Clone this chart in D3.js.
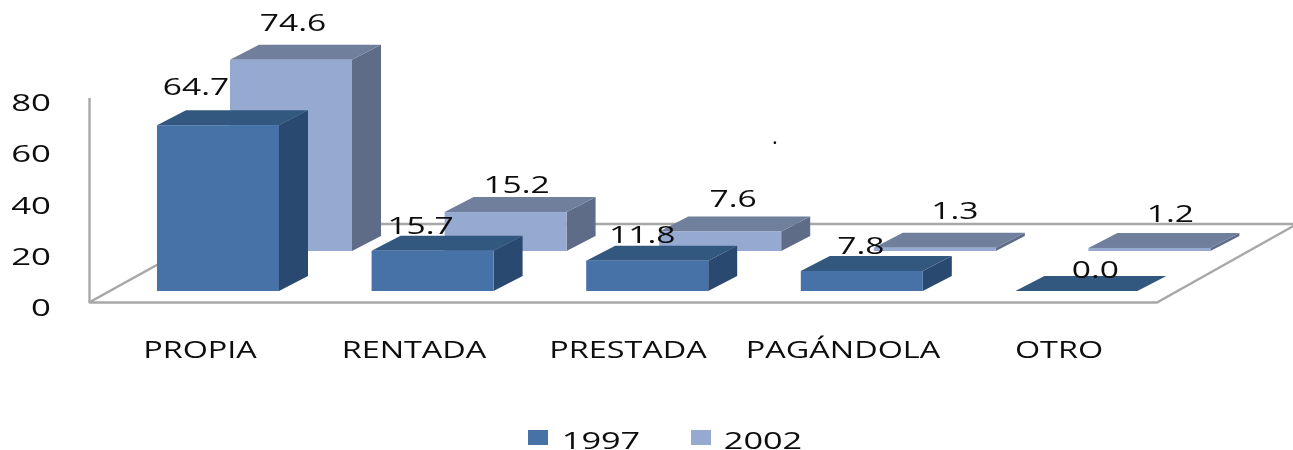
<!DOCTYPE html>
<html><head><meta charset="utf-8">
<script src="https://cdn.jsdelivr.net/npm/d3@7/dist/d3.min.js"></script>
<style>html,body{margin:0;padding:0;background:#fff;overflow:hidden}svg{display:block}
text{font-family:"Open Sans",sans-serif;fill:#111}</style></head><body>
<script>
const categories = ["PROPIA","RENTADA","PRESTADA","PAGÁNDOLA","OTRO"];
const seriesNames = ["1997","2002"];
const values1997 = [64.7,15.7,11.8,7.8,0.0];
const values2002 = [74.6,15.2,7.6,1.3,1.2];
const yTicks = [0,20,40,60,80];

// label nudges relative to the centre/top of each bar (style only)
const nudge1997 = [[-22,-30],[-12,-17],[-5,-18],[-1,-17],[19,-13]];
const nudge2002 = [[2,-29],[11,-19],[13,-25],[20,-29],[21,-26]];

const W=1293,H=450;
const svg=d3.select("body").append("svg").attr("width",W).attr("height",H);
const defs=svg.append("defs");
defs.append("filter").attr("id","soft").append("feGaussianBlur").attr("stdDeviation",0.55);
const g=svg.append("g").attr("filter","url(#soft)");

const floorY=302.5, wallX=89;
const y=d3.scaleLinear().domain([0,80]).range([floorY,97.5]);
const unit=y(0)-y(1);
const x=d3.scaleBand().domain(categories).range([157,1230]).paddingInner(0).paddingOuter(0);
const barW=122, depthX=29, depthY=15;
const series=[
 {name:seriesNames[1],vals:values2002,dx:73,base:251,nudge:nudge2002,face:"#95a9d1",top:"#6f7f9c",side:"#5e6c88"},
 {name:seriesNames[0],vals:values1997,dx:0,base:291,nudge:nudge1997,face:"#4672a8",top:"#33587f",side:"#2c4a70"}
];

// floor outline
const line=d3.line();
g.append("path").attr("d",line([[wallX,floorY],[1157,floorY],[1297,224],[231,224],[wallX,floorY]]))
 .attr("fill","#fff").attr("stroke","#a8a8a8").attr("stroke-width",2.4);

// value axis: its domain line is the wall edge
const axis=d3.axisLeft(y).tickValues(yTicks).tickSize(0).tickFormat(d3.format("d"));
const ax=g.append("g").attr("transform",`translate(${wallX},0)`).call(axis);
ax.select(".domain").attr("stroke","#a8a8a8").attr("stroke-width",2.4);
ax.selectAll("text").attr("x",0).attr("dy",null)
  .style("font-size","24px").style("font-family",'"Open Sans",sans-serif').attr("fill","#111")
  .attr("text-anchor","end").attr("transform",`translate(-38,${7+6})scale(1.45,1)`);

function stretched(sel,sx){
  sel.attr("text-anchor","middle").attr("transform",function(){
    return `translate(${+this.dataset.x},${+this.dataset.y})scale(${sx},1)`;});
}

// bars
series.forEach(s=>{
  const bars=g.append("g").selectAll("g").data(s.vals.map((v,i)=>({v,i,c:categories[i]}))).join("g");
  const X=d=>x(d.c)+s.dx, T=d=>s.base-d.v*unit;
  bars.append("path").attr("fill",s.side).attr("d",d=>line([[X(d)+barW,T(d)],[X(d)+barW+depthX,T(d)-depthY],[X(d)+barW+depthX,s.base-depthY],[X(d)+barW,s.base]])+"Z");
  bars.append("path").attr("fill",s.top).attr("d",d=>line([[X(d),T(d)],[X(d)+depthX,T(d)-depthY],[X(d)+barW+depthX,T(d)-depthY],[X(d)+barW,T(d)]])+"Z");
  bars.append("rect").attr("fill",s.face).attr("x",X).attr("y",T).attr("width",barW).attr("height",d=>d.v*unit);
});

// value labels
series.forEach(s=>{
  const t=g.append("g").selectAll("text").data(s.vals.map((v,i)=>({v,i,c:categories[i]}))).join("text")
   .text(d=>d.v.toFixed(1)).style("font-size","24px")
   .attr("data-x",d=>x(d.c)+s.dx+barW/2+s.nudge[d.i][0])
   .attr("data-y",d=>s.base-d.v*unit+s.nudge[d.i][1]);
  stretched(t,1.4);
});

// category labels
const catCentres=[200,414,628,843,1059];
const ct=g.append("g").selectAll("text").data(categories).join("text").text(d=>d)
  .style("font-size","24px").attr("data-x",(d,i)=>catCentres[i]).attr("data-y",358);
stretched(ct,1.35);

// stray dot in the reference
const dot=g.append("text").text(".").style("font-size","22px").attr("data-x",775).attr("data-y",144);
stretched(dot,1);

// legend
const leg=g.append("g");
[[528,563,0],[691,725,1]].forEach(([sx,tx,i])=>{
  leg.append("rect").attr("x",sx).attr("y",430).attr("width",20).attr("height",15).attr("fill",series[1-i].face);
  leg.append("text").text(seriesNames[i]).style("font-size","24px").attr("text-anchor","middle")
   .attr("transform",`translate(${tx+38},449)scale(1.43,1)`);
});
</script></body></html>
